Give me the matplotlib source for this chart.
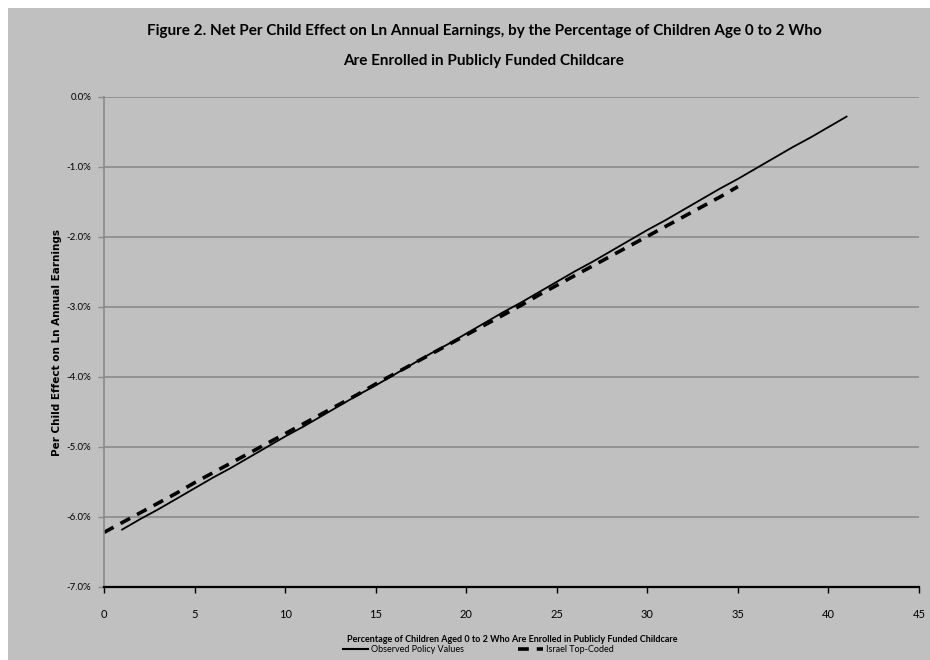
import matplotlib.pyplot as plt
import matplotlib.patches as mpatches
from matplotlib.ticker import FuncFormatter
from matplotlib.lines import Line2D

# solid line: observed policy values (percentage enrolled vs effect in %)
x_observed = list(range(1, 42))
y_observed = [-6.18, -6.03, -5.89, -5.74, -5.59, -5.44, -5.30, -5.15, -5.00, -4.85,
              -4.71, -4.56, -4.41, -4.26, -4.12, -3.97, -3.82, -3.67, -3.53, -3.38,
              -3.23, -3.08, -2.94, -2.79, -2.64, -2.49, -2.35, -2.20, -2.05, -1.90,
              -1.76, -1.61, -1.46, -1.31, -1.17, -1.02, -0.87, -0.72, -0.58, -0.43,
              -0.28]

# dashed line: Israel top-coded
x_israel = list(range(0, 36))
y_israel = [-6.22, -6.08, -5.94, -5.80, -5.66, -5.51, -5.37, -5.23, -5.09, -4.95,
            -4.81, -4.67, -4.53, -4.39, -4.25, -4.10, -3.96, -3.82, -3.68, -3.54,
            -3.40, -3.26, -3.12, -2.98, -2.83, -2.69, -2.55, -2.41, -2.27, -2.13,
            -1.99, -1.85, -1.71, -1.57, -1.43, -1.28]

x_ticks = [0, 5, 10, 15, 20, 25, 30, 35, 40, 45]
y_ticks = [0, -1, -2, -3, -4, -5, -6, -7]

bg = '#c0c0c0'
font = ['Lato', 'DejaVu Sans']

fig = plt.figure(figsize=(9.3, 6.6), dpi=100)
fig.patch.set_facecolor('white')
fig.patches.append(mpatches.Rectangle((8 / 930, 0), 1, 652 / 660, transform=fig.transFigure,
                                      facecolor=bg, edgecolor='none', zorder=-10))

ax = fig.add_axes([104 / 930, 1 - 587 / 660, 815 / 930, 490 / 660])
ax.set_facecolor(bg)

ax.plot(x_observed, y_observed, color='black', linewidth=1.3, label='Observed Policy Values')
ax.plot(x_israel, y_israel, color='black', linewidth=2.6, linestyle=(0, (3, 2.2)),
        label='Israel Top-Coded')

ax.set_xlim(0, 45)
ax.set_ylim(-7, 0)
ax.set_xticks(x_ticks)
ax.set_yticks(y_ticks)
ax.yaxis.set_major_formatter(FuncFormatter(lambda v, p: '%.1f%%' % v))
ax.grid(axis='y', color='#8a8a8a', linewidth=1.2)
ax.set_axisbelow(True)

for s in ['top', 'right']:
    ax.spines[s].set_visible(False)
ax.spines['left'].set_color('#8a8a8a')
ax.spines['left'].set_linewidth(1.2)
ax.spines['bottom'].set_color('black')
ax.spines['bottom'].set_linewidth(1.6)

ax.tick_params(axis='x', length=4, width=1, color='black', pad=12, labelsize=8)
ax.tick_params(axis='y', length=4, width=1, color='#8a8a8a', pad=5, labelsize=7)
for lab in ax.get_xticklabels() + ax.get_yticklabels():
    lab.set_family(font)

fig.text(484 / 930, 1 - 31 / 660, 'Figure 2. Net Per Child Effect on Ln Annual Earnings, by the Percentage of Children Age 0 to 2 Who',
         ha='center', va='center', fontsize=11, fontweight='bold', family=font)
fig.text(484 / 930, 1 - 61 / 660, 'Are Enrolled in Publicly Funded Childcare',
         ha='center', va='center', fontsize=11, fontweight='bold', family=font)

fig.text(57 / 930, 1 - 342 / 660, 'Per Child Effect on Ln Annual Earnings', rotation=90,
         ha='center', va='center', fontsize=7.5, fontweight='bold', family='DejaVu Sans')

fig.text(512 / 930, 1 - 639 / 660, 'Percentage of Children Aged 0 to 2 Who Are Enrolled in Publicly Funded Childcare',
         ha='center', va='center', fontsize=6.5, fontweight='bold', family=font)

handles = [Line2D([], [], color='black', linewidth=1.5),
           Line2D([], [], color='black', linewidth=2.6, linestyle=(0, (3, 2.2)))]
leg = fig.legend(handles, ['Observed Policy Values', 'Israel Top-Coded'], loc='center',
                 bbox_to_anchor=(478 / 930, 1 - 650 / 660), ncol=2, frameon=False,
                 fontsize=6.5, handlelength=2.8, handletextpad=0.3, columnspacing=6,
                 borderpad=0, borderaxespad=0)
for t in leg.get_texts():
    t.set_family(font)

fig.savefig('out.png', dpi=100, facecolor=fig.get_facecolor())
